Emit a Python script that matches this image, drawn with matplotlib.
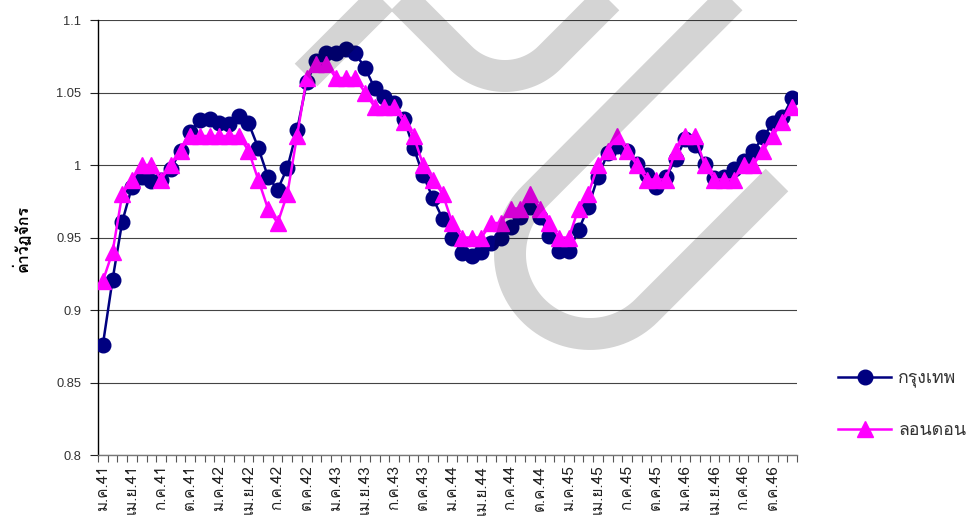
import numpy as np
import matplotlib
matplotlib.use('Agg')
import matplotlib.pyplot as plt
from matplotlib import font_manager, ft2font
from matplotlib.lines import Line2D
from matplotlib.transforms import Affine2D

# ข้อมูลรายเดือน ม.ค.41 - ธ.ค.46
months = ['ม.ค.', 'ก.พ.', 'มี.ค.', 'เม.ย.', 'พ.ค.', 'มิ.ย.',
          'ก.ค.', 'ส.ค.', 'ก.ย.', 'ต.ค.', 'พ.ย.', 'ธ.ค.']
years = ['41', '42', '43', '44', '45', '46']
periods = [m + y for y in years for m in months]

bangkok = [0.876, 0.921, 0.961, 0.985, 0.992, 0.989, 0.990, 0.997, 1.010, 1.023,
           1.031, 1.032, 1.029, 1.028, 1.034, 1.029, 1.012, 0.992, 0.983, 0.998,
           1.024, 1.057, 1.072, 1.077, 1.077, 1.080, 1.077, 1.067, 1.053, 1.047,
           1.043, 1.032, 1.012, 0.993, 0.977, 0.963, 0.950, 0.939, 0.937, 0.940,
           0.946, 0.950, 0.957, 0.964, 0.971, 0.964, 0.951, 0.941, 0.941, 0.955,
           0.971, 0.992, 1.008, 1.013, 1.010, 1.001, 0.993, 0.985, 0.992, 1.004,
           1.018, 1.014, 1.001, 0.991, 0.992, 0.997, 1.003, 1.010, 1.019, 1.029,
           1.033, 1.046]
london = [0.92, 0.94, 0.98, 0.99, 1.00, 1.00, 0.99, 1.00, 1.01, 1.02,
          1.02, 1.02, 1.02, 1.02, 1.02, 1.01, 0.99, 0.97, 0.96, 0.98,
          1.02, 1.06, 1.07, 1.07, 1.06, 1.06, 1.06, 1.05, 1.04, 1.04,
          1.04, 1.03, 1.02, 1.00, 0.99, 0.98, 0.96, 0.95, 0.95, 0.95,
          0.96, 0.96, 0.97, 0.97, 0.98, 0.97, 0.96, 0.95, 0.95, 0.97,
          0.98, 1.00, 1.01, 1.02, 1.01, 1.00, 0.99, 0.99, 0.99, 1.01,
          1.02, 1.02, 1.00, 0.99, 0.99, 0.99, 1.00, 1.00, 1.01, 1.02,
          1.03, 1.04]


def thai_font():
    # หาฟอนต์ที่มีอักษรไทย
    for f in font_manager.fontManager.ttflist:
        try:
            cmap = ft2font.FT2Font(f.fname).get_charmap()
        except Exception:
            continue
        if 0x0E01 in cmap and 0x0E48 in cmap:
            return f.name
    return 'DejaVu Sans'


TH = [thai_font(), 'Liberation Sans', 'DejaVu Sans']
plt.rcParams['font.family'] = ['Liberation Sans', 'DejaVu Sans']

W, H = 970, 529
fig = plt.figure(figsize=(W / 100, H / 100), dpi=100)
ax = fig.add_axes([98 / W, 1 - 455 / H, (797 - 98) / W, (455 - 20) / H])

x = np.arange(len(periods))
ax.plot(x, bangkok, color='#000080', lw=1.8, marker='o', ms=10.5,
        mfc='#000080', mec='#000080', label='กรุงเทพ', zorder=3)
ax.plot(x, london, color='#FF00FF', lw=1.8, marker='^', ms=11.5,
        mfc='#FF00FF', mec='#FF00FF', label='ลอนดอน', zorder=4)

ax.set_xlim(-0.5, len(periods) - 0.5)
ax.set_ylim(0.8, 1.1)
ax.set_yticks([0.8, 0.85, 0.9, 0.95, 1.0, 1.05, 1.1])
ax.set_yticklabels(['0.8', '0.85', '0.9', '0.95', '1', '1.05', '1.1'])
ax.yaxis.grid(True, color='#444444', lw=0.8)
ax.set_axisbelow(True)

# ขีดแบ่งเดือน และป้ายทุก 3 เดือน
ax.set_xticks(np.arange(len(periods) + 1) - 0.5)
ax.set_xticklabels([])
ax.set_xticks(x[::3], minor=True)
ax.set_xticklabels(periods[::3], minor=True, rotation=90, fontsize=11,
                   family=TH, color='#222222', va='top')
ax.tick_params(axis='x', which='major', length=5, width=0.8, color='#555555')
ax.tick_params(axis='x', which='minor', length=0, pad=7)
ax.tick_params(axis='y', length=6, width=0.8, color='#222222',
               labelsize=9.3, labelcolor='#333333', pad=6)

for s in ['top', 'right']:
    ax.spines[s].set_visible(False)
ax.spines['left'].set_color('black')
ax.spines['left'].set_linewidth(1.0)
ax.spines['bottom'].set_color('#777777')
ax.spines['bottom'].set_linewidth(1.0)

ax.set_ylabel('ค่าวัฏจักร', family=TH, fontsize=11.5, fontweight='bold')
ax.yaxis.set_label_coords(31 / W, 1 - 238 / H, transform=fig.transFigure)

leg = ax.legend(loc='center left', bbox_to_anchor=(838 / W, 1 - 404 / H),
                bbox_transform=fig.transFigure, frameon=False, borderpad=0,
                borderaxespad=0, handlelength=3.0, handletextpad=0.4,
                labelspacing=1.9, prop={'family': TH, 'size': 12.8})
for t in leg.get_texts():
    t.set_color('#333333')

# ลายน้ำ
px = Affine2D().scale(1 / W, -1 / H).translate(0, 1) + fig.transFigure


def arc(cx, cy, r, a0, a1, n=40):
    t = np.radians(np.linspace(a0, a1, n))
    return cx + r * np.cos(t), cy + r * np.sin(t)


ax1, ay1 = arc(505, 13, 63, 135, 45)
sx = np.concatenate([[306, 392], ax1, [620]])
sy = np.concatenate([[75, -11], ay1, [-13]])
ax2, ay2 = arc(590, 254, 80, 225, 45, 60)
tx = np.concatenate([[783], ax2, [777]])
ty = np.concatenate([[-53], ay2, [180]])
for xs, ys in [(sx, sy), (tx, ty)]:
    fig.add_artist(Line2D(xs, ys, transform=px, color='black', alpha=0.17,
                          lw=23, solid_capstyle='butt', solid_joinstyle='miter',
                          zorder=10))

fig.savefig('out.png', dpi=100)
